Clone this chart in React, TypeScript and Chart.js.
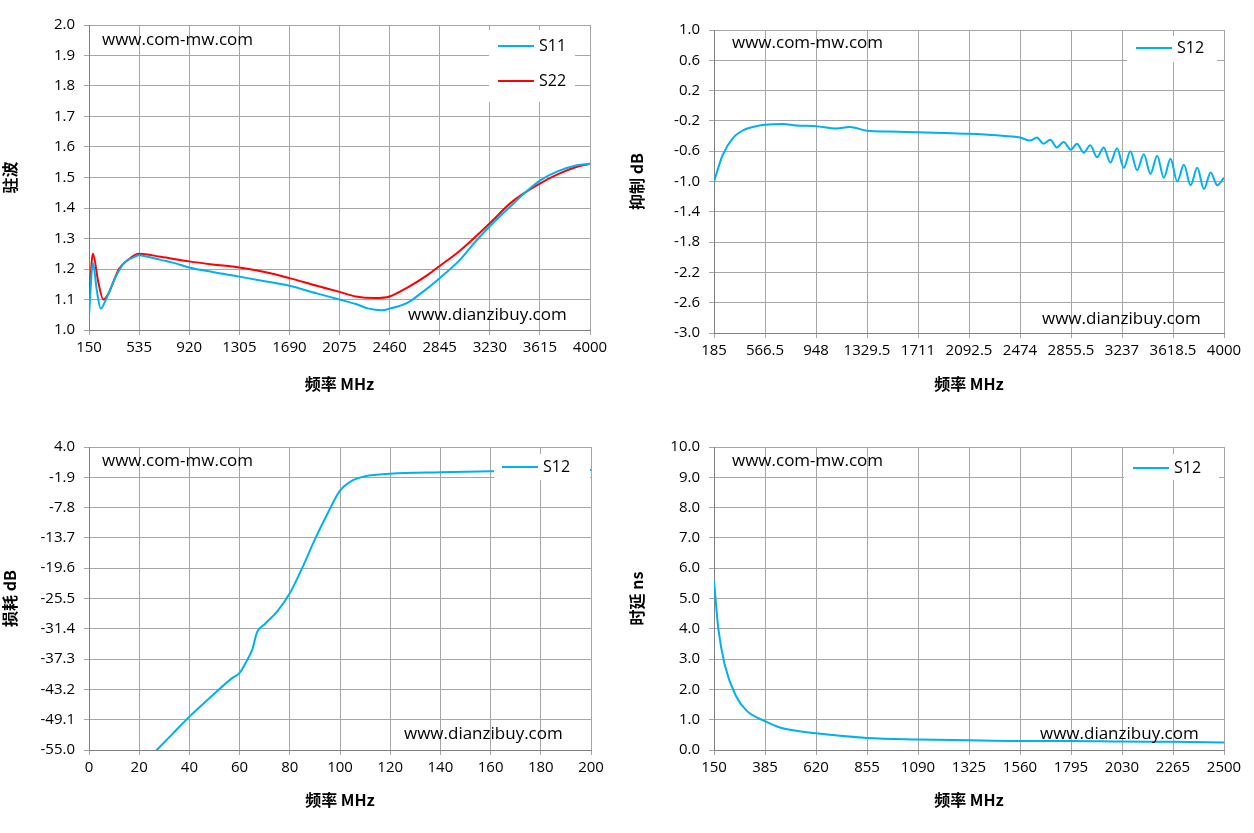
import React, { useEffect, useRef } from "react";
import { Chart, registerables } from "chart.js";
Chart.register(...registerables);

// Panel 1: VSWR
const p1X = [150,180,210,240,280,350,420,500,535,600,700,800,920,1100,1305,1500,1690,1900,2075,2200,2300,2400,2460,2600,2700,2845,3000,3100,3230,3400,3500,3615,3750,3900,4000];
const p1S11 = [1.05,1.22,1.13,1.07,1.10,1.17,1.22,1.24,1.245,1.24,1.23,1.22,1.205,1.19,1.175,1.16,1.145,1.12,1.10,1.085,1.07,1.065,1.07,1.09,1.12,1.17,1.23,1.28,1.34,1.41,1.45,1.49,1.52,1.54,1.545];
const p1X22 = [150,180,220,260,300,380,450,535,700,920,1100,1305,1500,1690,1900,2075,2200,2350,2460,2600,2750,2845,3000,3230,3400,3615,3750,3900,4000];
const p1S22 = [1.09,1.25,1.16,1.10,1.12,1.20,1.23,1.25,1.24,1.225,1.215,1.205,1.19,1.17,1.145,1.125,1.11,1.105,1.11,1.14,1.18,1.21,1.26,1.35,1.42,1.48,1.51,1.535,1.545];
const p1Ticks = [150,535,920,1305,1690,2075,2460,2845,3230,3615,4000];

// Panel 2: rejection
const p2X = [185,250,330,420,500,566,700,800,948,1100,1200,1329,1500,1711,1900,2092,2300,2474,2550,2600,2650,2700,2750,2800,2855,2900,2950,3000,3050,3100,3150,3200,3250,3300,3350,3400,3450,3500,3550,3600,3650,3700,3750,3800,3850,3900,3950,4000];
const p2Y = [-1.0,-0.65,-0.42,-0.31,-0.27,-0.25,-0.24,-0.26,-0.27,-0.30,-0.28,-0.33,-0.34,-0.35,-0.36,-0.37,-0.39,-0.42,-0.46,-0.42,-0.50,-0.45,-0.55,-0.48,-0.58,-0.50,-0.62,-0.52,-0.68,-0.55,-0.75,-0.56,-0.82,-0.60,-0.85,-0.64,-0.90,-0.66,-0.95,-0.70,-1.00,-0.78,-1.05,-0.82,-1.10,-0.88,-1.05,-0.95];
const p2Ticks = [185,566.5,948,1329.5,1711,2092.5,2474,2855.5,3237,3618.5,4000];

// Panel 3: insertion loss
const p3X = [25,27,33,40,50,57,60,63,65,67,70,75,80,85,90,95,100,105,110,120,140,160,200];
const p3Y = [-56,-55,-52,-48.5,-44,-41,-40,-37.5,-35.5,-32,-30.5,-28,-24.5,-19.5,-14,-9,-4.5,-2.5,-1.7,-1.2,-0.9,-0.7,-0.5];
const p3YTicks = [4.0,-1.9,-7.8,-13.7,-19.6,-25.5,-31.4,-37.3,-43.2,-49.1,-55.0];

// Panel 4: group delay
const p4X = [150,170,200,250,300,385,450,620,855,1090,1325,1560,1795,2030,2265,2500];
const p4Y = [5.6,4.0,2.8,1.8,1.3,0.95,0.75,0.55,0.4,0.35,0.32,0.3,0.3,0.28,0.27,0.25];
const p4Ticks = [150,385,620,855,1090,1325,1560,1795,2030,2265,2500];

const BLUE = "#00b0f0", RED = "#ff0000";
const tickFont = { family: "Open Sans, sans-serif", size: 15 };
const titleFont = { family: "Noto Sans CJK SC", size: 16, weight: "bold" as const };

const overlay = {
  id: "overlay",
  afterDatasetsDraw(chart: any, _a: any, opts: any) {
    const ctx = chart.ctx;
    ctx.save();
    ctx.font = "17px Open Sans, sans-serif";
    ctx.textBaseline = "middle";
    const lg = opts.legend;
    if (lg) {
      ctx.fillStyle = "#fff";
      ctx.fillRect(lg.box[0], lg.box[1], lg.box[2], lg.box[3]);
    }
    for (const w of opts.texts || []) {
      ctx.fillStyle = "#000";
      ctx.fillText(w.t, w.x, w.y);
    }
    if (lg) {
      ctx.font = "16px Open Sans, sans-serif";
      lg.items.forEach((it: any, i: number) => {
        const y = lg.y + i * lg.dy;
        ctx.strokeStyle = it.c; ctx.lineWidth = 2;
        ctx.beginPath(); ctx.moveTo(lg.x, y); ctx.lineTo(lg.x + 36, y); ctx.stroke();
        ctx.fillStyle = "#000";
        ctx.fillText(it.l, lg.x + 41, y);
      });
    }
    ctx.restore();
  },
};

function mk(xs: number[], ys: number[], c: string) {
  return { data: xs.map((x, i) => ({ x, y: ys[i] })), borderColor: c, borderWidth: 2, pointRadius: 0, tension: 0.4, cubicInterpolationMode: "monotone" as const };
}

function Panel(props: any) {
  const ref = useRef<HTMLCanvasElement>(null);
  useEffect(() => {
    const p = props.cfg;
    const ch = new Chart(ref.current!, {
      type: "line",
      data: { datasets: p.datasets },
      plugins: [overlay],
      options: {
        animation: false, responsive: false, maintainAspectRatio: false,
        layout: { padding: { top: p.top, right: p.right, left: 0, bottom: 0 } },
        plugins: { legend: { display: false }, tooltip: { enabled: false }, overlay: p.overlay } as any,
        scales: {
          x: {
            type: "linear", min: p.xmin, max: p.xmax,
            afterBuildTicks: (s: any) => { s.ticks = p.xticks.map((v: number) => ({ value: v })); },
            afterFit: (s: any) => { s.height = p.xh; },
            ticks: { font: tickFont, color: "#000", maxRotation: 0, autoSkip: false, padding: 4, callback: (v: any) => String(v) },
            grid: { color: "#a6a6a6", tickLength: 5 },
            border: { color: "#808080" },
            title: { display: true, text: "频率 MHz", font: titleFont, color: "#000", padding: { top: 0, bottom: 22 } },
          },
          y: {
            type: "linear", min: p.ymin, max: p.ymax,
            afterBuildTicks: (s: any) => { s.ticks = p.yticks.map((v: number) => ({ value: v })); },
            afterFit: (s: any) => { s.width = p.yw; },
            ticks: { font: tickFont, color: "#000", autoSkip: false, padding: 9, callback: (v: any) => Number(v).toFixed(1) },
            grid: { color: "#a6a6a6", tickLength: 5 },
            border: { color: "#808080" },
            title: { display: true, text: p.ytitle, font: titleFont, color: "#000", padding: { top: 0, bottom: 10 } },
          },
        },
      } as any,
    });
    return () => ch.destroy();
  }, []);
  return <canvas ref={ref} width={627} height={416} style={{ position: "absolute", left: props.left, top: props.top, width: 627, height: 416 }} />;
}

const range = (a: number, b: number, s: number) => { const r: number[] = []; for (let i = 0; a + i * s <= b + 1e-9; i++) r.push(+(a + i * s).toFixed(2)); return r; };

const cfgs = [
  { left: 0, top: 0, cfg: {
    datasets: [mk(p1X, p1S11, BLUE), mk(p1X22, p1S22, RED)],
    xmin: 150, xmax: 4000, xticks: p1Ticks, ymin: 1, ymax: 2, yticks: range(1, 2, 0.1),
    top: 25, right: 37, xh: 86, yw: 89, ytitle: "驻波",
    overlay: { texts: [{ t: "www.com-mw.com", x: 102, y: 40 }, { t: "www.dianzibuy.com", x: 408, y: 315 }],
      legend: { box: [489, 30, 86, 72], x: 498, y: 46, dy: 35, items: [{ c: BLUE, l: "S11" }, { c: RED, l: "S22" }] } } } },
  { left: 627, top: 0, cfg: {
    datasets: [mk(p2X, p2Y, BLUE)],
    xmin: 185, xmax: 4000, xticks: p2Ticks, ymin: -3, ymax: 1, yticks: range(-3, 1, 0.4),
    top: 30, right: 30, xh: 83, yw: 87, ytitle: "抑制 dB",
    overlay: { texts: [{ t: "www.com-mw.com", x: 105, y: 43 }, { t: "www.dianzibuy.com", x: 415, y: 319 }],
      legend: { box: [500, 36, 90, 26], x: 509, y: 48, dy: 0, items: [{ c: BLUE, l: "S12" }] } } } },
  { left: 0, top: 416, cfg: {
    datasets: [{ ...mk(p3X, p3Y, BLUE) }],
    xmin: 0, xmax: 200, xticks: range(0, 200, 20), ymin: -55, ymax: 4, yticks: p3YTicks,
    top: 31, right: 36, xh: 82, yw: 89, ytitle: "损耗 dB",
    overlay: { texts: [{ t: "www.com-mw.com", x: 102, y: 45 }, { t: "www.dianzibuy.com", x: 404, y: 318 }],
      legend: { box: [494, 38, 96, 26], x: 502, y: 51, dy: 0, items: [{ c: BLUE, l: "S12" }] } } } },
  { left: 627, top: 416, cfg: {
    datasets: [mk(p4X, p4Y, BLUE)],
    xmin: 150, xmax: 2500, xticks: p4Ticks, ymin: 0, ymax: 10, yticks: range(0, 10, 1),
    top: 31, right: 30, xh: 82, yw: 87, ytitle: "时延 ns",
    overlay: { texts: [{ t: "www.com-mw.com", x: 105, y: 45 }, { t: "www.dianzibuy.com", x: 413, y: 318 }],
      legend: { box: [497, 38, 95, 26], x: 506, y: 52, dy: 0, items: [{ c: BLUE, l: "S12" }] } } } },
];

export default function App() {
  return (
    <div style={{ position: "absolute", left: 0, top: 0, width: 1254, height: 833, background: "#fff" }}>
      {cfgs.map((c, i) => <Panel key={i} left={c.left} top={c.top} cfg={c.cfg} />)}
    </div>
  );
}
